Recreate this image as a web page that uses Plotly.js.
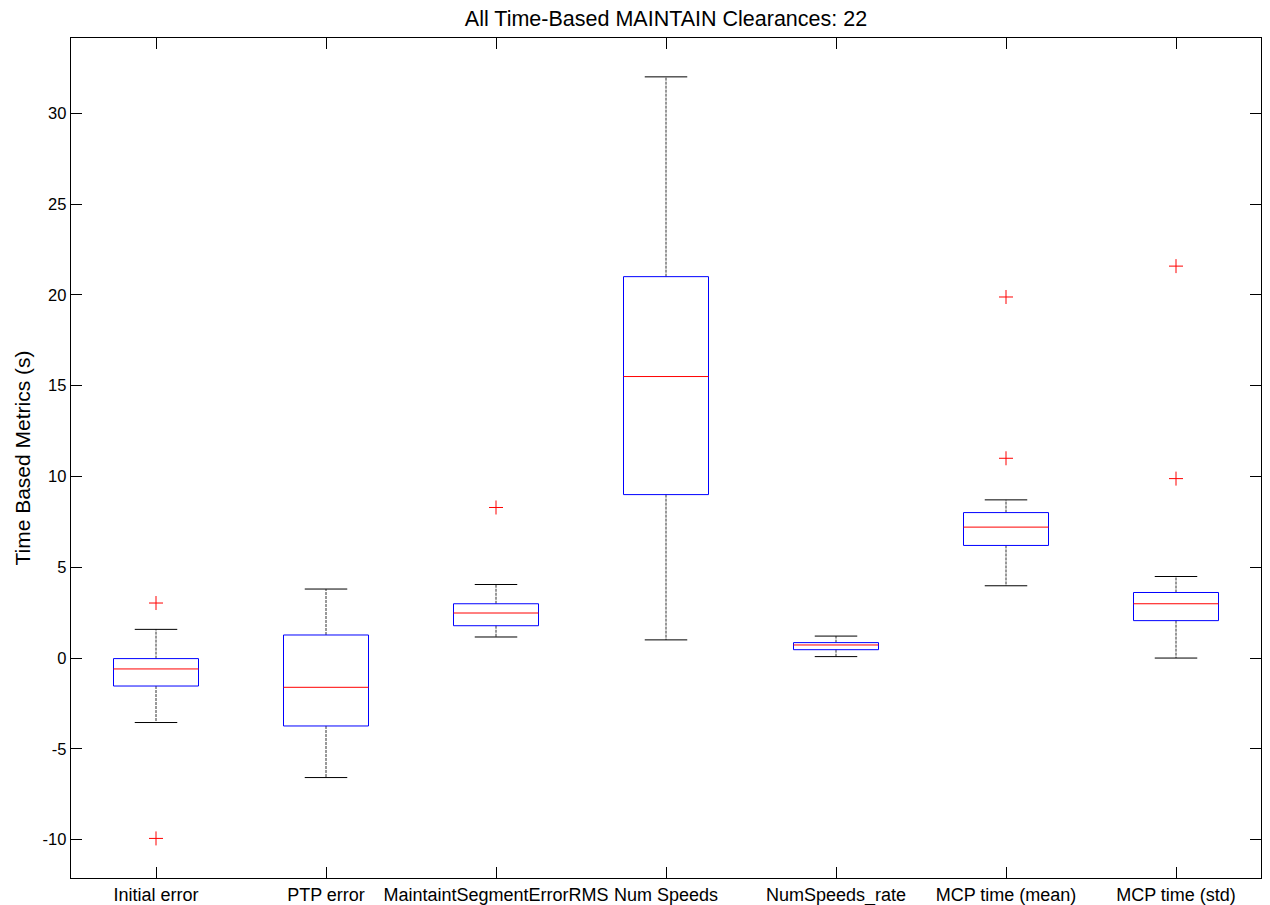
<!DOCTYPE html>
<html>
<head>
<meta charset="utf-8">
<script src="https://cdn.plot.ly/plotly-3.0.1.min.js"></script>
<style>html,body{margin:0;padding:0;background:#fff;}#chart{width:1270px;height:905px;}</style>
</head>
<body>
<div id="chart"></div>
<script>
// Category labels
const categories = ["Initial error", "PTP error", "MaintaintSegmentErrorRMS", "Num Speeds", "NumSpeeds_rate", "MCP time (mean)", "MCP time (std)"];
// Box statistics
const lowerWhisker = [-3.55, -6.58, 1.16, 1.0, 0.08, 3.98, 0.0];
const q1Values     = [-1.54, -3.74, 1.78, 9.0, 0.46, 6.2, 2.06];
const medianValues = [-0.6, -1.61, 2.48, 15.5, 0.72, 7.21, 2.99];
const q3Values     = [-0.03, 1.27, 2.99, 21.0, 0.85, 8.01, 3.61];
const upperWhisker = [1.58, 3.8, 4.05, 32.0, 1.21, 8.71, 4.49];
// Outliers: category index (1-based) and value
const outlierGroup = [1, 1, 3, 6, 6, 7, 7];
const outlierValue = [3.03, -9.93, 8.29, 19.88, 11.0, 21.58, 9.88];
const yTicks = [-10, -5, 0, 5, 10, 15, 20, 25, 30];

const boxHalf = 0.25, capHalf = 0.125;
const bx = [], by = [], mx = [], my = [], wx = [], wy = [], cx = [], cy = [];
categories.forEach((c, k) => {
  const p = k + 1;
  bx.push(p - boxHalf, p + boxHalf, p + boxHalf, p - boxHalf, p - boxHalf, null);
  by.push(q1Values[k], q1Values[k], q3Values[k], q3Values[k], q1Values[k], null);
  mx.push(p - boxHalf, p + boxHalf, null);
  my.push(medianValues[k], medianValues[k], null);
  wx.push(p, p, null, p, p, null);
  wy.push(q3Values[k], upperWhisker[k], null, q1Values[k], lowerWhisker[k], null);
  cx.push(p - capHalf, p + capHalf, null, p - capHalf, p + capHalf, null);
  cy.push(upperWhisker[k], upperWhisker[k], null, lowerWhisker[k], lowerWhisker[k], null);
});

const traces = [
  {x: wx, y: wy, mode: 'lines', line: {color: '#333', width: 1, dash: '3px,1px'}, hoverinfo: 'skip'},
  {x: cx, y: cy, mode: 'lines', line: {color: '#000', width: 1}, hoverinfo: 'skip'},
  {x: bx, y: by, mode: 'lines', line: {color: '#0000FF', width: 1}, hoverinfo: 'skip'},
  {x: mx, y: my, mode: 'lines', line: {color: '#FF0000', width: 1}, hoverinfo: 'skip'},
  {x: outlierGroup, y: outlierValue, mode: 'markers',
   marker: {symbol: 'cross-thin-open', size: 10, color: '#FF0000', line: {color: '#FF0000', width: 1}}}
];

const font = {family: 'Liberation Sans, Arial, sans-serif', color: '#000'};
const layout = {
  width: 1270, height: 905,
  margin: {l: 71, r: 9, t: 38, b: 27},
  paper_bgcolor: '#fff', plot_bgcolor: '#fff',
  showlegend: false,
  font: Object.assign({size: 15}, font),
  title: {text: 'All Time-Based MAINTAIN Clearances: 22', xref: 'paper', x: 0.5, xanchor: 'center',
          yref: 'container', y: 0.98, yanchor: 'middle',
          font: Object.assign({size: 21.5}, font)},
  xaxis: {range: [0.5, 7.5], tickmode: 'array', tickvals: categories.map((c, k) => k + 1), ticktext: categories,
          ticks: 'inside', ticklen: 11, tickcolor: '#000', showline: true, linecolor: '#000', linewidth: 1.3,
          mirror: 'ticks', showgrid: false, zeroline: false, tickfont: Object.assign({size: 18}, font)},
  yaxis: {range: [-12.11, 34.14], tickmode: 'array', tickvals: yTicks, ticktext: yTicks.map(String),
          ticks: 'inside', ticklen: 11, tickcolor: '#000', showline: true, linecolor: '#000', linewidth: 1.3,
          mirror: 'ticks', showgrid: false, zeroline: false, tickfont: Object.assign({size: 16.5}, font),
          title: {text: 'Time Based Metrics (s)', font: Object.assign({size: 21}, font), standoff: 6}}
};

Plotly.newPlot('chart', traces, layout, {staticPlot: true, displayModeBar: false});
</script>
</body>
</html>
